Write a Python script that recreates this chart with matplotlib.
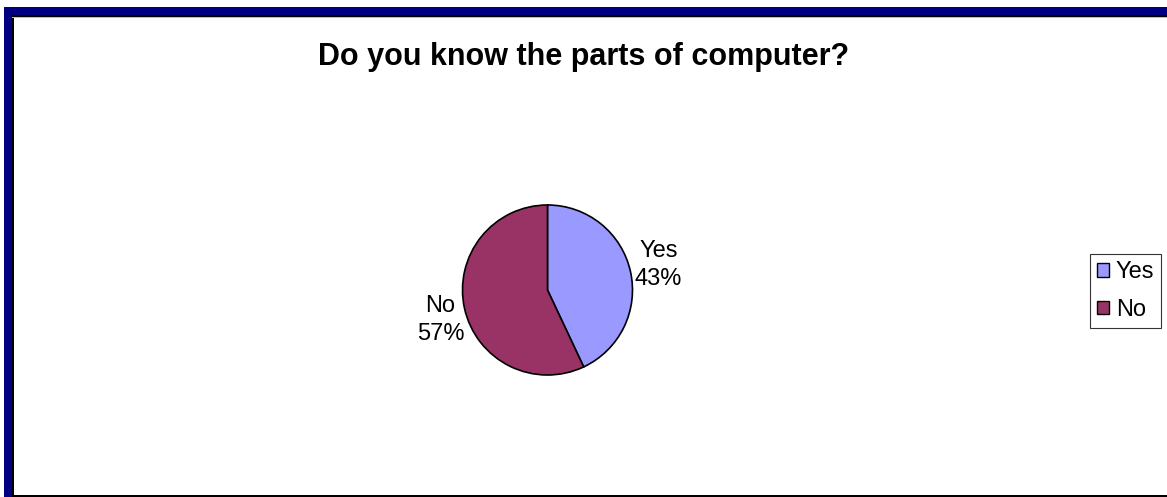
import numpy as np
import matplotlib.pyplot as plt
from matplotlib.patches import Rectangle

plt.rcParams['font.family'] = ['Liberation Sans', 'DejaVu Sans']

categories = ['Yes', 'No']
counts = [43, 57]
colors = ['#9999FF', '#993366']

W, H = 1167, 497
fig = plt.figure(figsize=(W / 100, H / 100), dpi=100)
fig.patch.set_facecolor('white')


def px(x, y, w, h):
    # pixel box (top-left origin) -> figure fraction rect
    return [x / W, 1 - (y + h) / H, w / W, h / H]


# frame: navy band on top/left, thin black line inside, black bottom line
for x, y, w, h, c in [(4, 7, 8, H - 7, '#000080'), (4, 7, W - 4, 8, '#000080'),
                      (12, 15, 1.5, H - 15, 'black'), (12, 15, W - 12, 1.5, 'black'),
                      (12, 17, W - 12, 1, '#c0c0c0'), (12, 495, W - 12, 2, 'black')]:
    fig.patches.append(Rectangle((x / W, 1 - (y + h) / H), w / W, h / H,
                                 transform=fig.transFigure, color=c, lw=0, zorder=0))

fig.text(584 / W, 1 - 57 / H, 'Do you know the parts of computer?',
         ha='center', va='center', fontsize=22, fontweight='bold')

r = 85
ax = fig.add_axes(px(547.5 - r, 290 - r, 2 * r, 2 * r))
total = sum(counts)
labels = [f'{c}\n{v / total * 100:.0f}%' for c, v in zip(categories, counts)]
wedges, texts = ax.pie(counts, colors=colors, startangle=90, counterclock=False,
                       labels=labels, labeldistance=1.34,
                       wedgeprops=dict(edgecolor='black', linewidth=1.2),
                       textprops=dict(fontsize=17))
for t in texts:
    t.set_ha('center')
    t.set_va('center')
    t.set_linespacing(1.35)
# nudge the "No" label a little right and down
tx, ty = texts[1].get_position()
texts[1].set_position((tx + 0.05, ty - 0.06))
ax.set_xlim(-1, 1)
ax.set_ylim(-1, 1)
ax.set_aspect('equal')
ax.axis('off')

leg = fig.legend(wedges, categories, loc='center', bbox_to_anchor=(1125.5 / W, 1 - 291 / H),
                 fontsize=17, frameon=True, fancybox=False, handlelength=0.5,
                 handleheight=0.5, handletextpad=0.3, labelspacing=0.65,
                 borderpad=0.3, borderaxespad=0)
leg.get_frame().set_edgecolor('black')
leg.get_frame().set_linewidth(0.8)
for hnd in leg.legend_handles:
    hnd.set_edgecolor('black')
    hnd.set_linewidth(1.0)

fig.savefig('out.png', dpi=100)
